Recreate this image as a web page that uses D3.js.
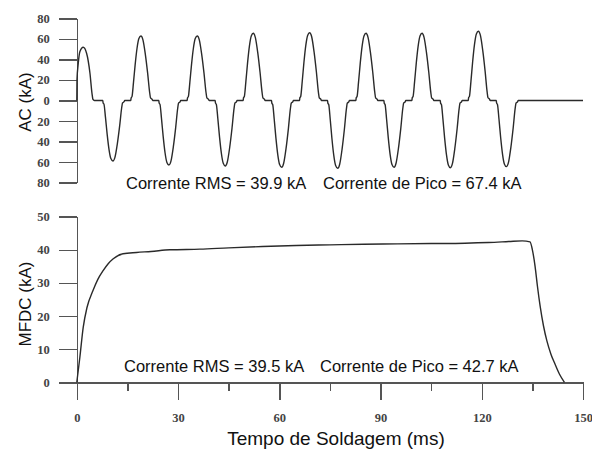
<!DOCTYPE html>
<html>
<head>
<meta charset="utf-8">
<script src="https://cdn.jsdelivr.net/npm/d3@7"></script>
<style>
  html, body { margin: 0; padding: 0; background: #fff; }
  svg { display: block; }
  .axis path, .axis line { stroke: #555; stroke-width: 1.5; shape-rendering: crispEdges; }
  .axis text { font-family: "Liberation Serif", "Times New Roman", serif; font-weight: bold; font-size: 12.5px; fill: #444; }
  .trace { fill: none; stroke: #2a2a2a; stroke-width: 1.4; stroke-linejoin: round; }
  .note { font-family: "Liberation Sans", Arial, sans-serif; font-size: 16.5px; fill: #111; }
  .title { font-family: "Liberation Sans", Arial, sans-serif; fill: #111; }
</style>
</head>
<body>
<svg id="chart" width="592" height="452"></svg>
<script>
// ---- AC welding current (kA) ----
// First half-cycle is already conducting at t = 0: [ms, kA]
const acFirstLobe = [[0, 0], [0.05, 20], [0.4, 35], [0.9, 47.5], [1.9, 51.8], [2.9, 46], [3.9, 26.5], [4.5, 7], [4.8, 1], [5.2, 0]];
// Start time (ms) of each following conduction half-cycle
const acLobeStarts = [7.7, 16.0, 24.3, 32.7, 41.0, 49.3, 57.7, 66.0, 74.3, 82.7, 91.0, 99.3, 107.7, 116.0, 124.3];
// Peak current of each of those half-cycles (kA)
const acLobePeaks = [-58.9, 62.8, -62.8, 62.8, -63.7, 65.4, -65.0, 66.0, -66.0, 65.4, -65.0, 65.4, -65.4, 67.4, -64.4];
// Shape of one thyristor-fired half-cycle: [ms after firing, fraction of peak]
const acLobeShape = [[0, 0], [0.1, 0.04], [0.35, 0.06], [0.8, 0.28], [1.3, 0.56], [1.85, 0.81], [2.4, 0.96], [3.0, 1.0],
                     [3.6, 0.94], [4.3, 0.72], [5.0, 0.42], [5.6, 0.12], [5.85, 0.04], [6.3, 0.02], [6.5, 0]];
const acEnd = [150, 0];

// ---- MFDC welding current: [ms, kA] ----
const dcCurve = [[0, 0], [0.9, 7.5], [1.9, 16.6], [3.0, 22.5], [4.8, 27.7], [6.2, 31.0], [7.8, 33.7], [9.3, 35.8], [10.8, 37.3],
                 [13.7, 38.8], [17.7, 39.2], [22, 39.5], [27.6, 40.0], [36.5, 40.2], [45, 40.6], [55, 41.0], [65, 41.3],
                 [75, 41.5], [85, 41.7], [95, 41.8], [105, 41.9], [115, 42.0], [122, 42.2], [128, 42.5], [132, 42.7],
                 [134.3, 42.4], [135.0, 40.0], [135.8, 35.0], [136.5, 29.0], [137.3, 23.0], [138.3, 17.0], [139.3, 12.5],
                 [140.5, 8.5], [141.7, 5.5], [143.0, 2.5], [144.5, 0]];

// ---- Axis ticks and labels ----
const xTicks = [0, 30, 60, 90, 120, 150];
const xMinorTicks = [15, 45, 75, 105, 135];
const acTicks = [80, 60, 40, 20, 0, -20, -40, -60, -80];
const dcTicks = [0, 10, 20, 30, 40, 50];
const acTitle = "AC (kA)";
const dcTitle = "MFDC (kA)";
const xTitle = "Tempo de Soldagem (ms)";
const acNotes = ["Corrente RMS = 39.9 kA", "Corrente de Pico = 67.4 kA"];
const dcNotes = ["Corrente RMS = 39.5 kA", "Corrente de Pico = 42.7 kA"];

const svg = d3.select("#chart");

const x = d3.scaleLinear().domain([0, 150]).range([76.8, 583]);
const yAC = d3.scaleLinear().domain([-80, 80]).range([182.7, 18.3]);
const yDC = d3.scaleLinear().domain([0, 50]).range([382.3, 216.7]);

// Assemble the AC trace from the measured half-cycles
const acSeries = acFirstLobe.slice();
acLobeStarts.forEach((t0, i) => {
  acLobeShape.forEach(([dt, f]) => acSeries.push([t0 + dt, f * acLobePeaks[i]]));
});
acSeries.push(acEnd);

// Axes
svg.append("g").attr("class", "axis").attr("transform", `translate(${x(0)},0)`)
  .call(d3.axisLeft(yAC).tickValues(acTicks).tickSize(18).tickSizeOuter(0).tickPadding(9)
    .tickFormat(d => String(Math.abs(d))));

svg.append("g").attr("class", "axis").attr("transform", `translate(${x(0)},0)`)
  .call(d3.axisLeft(yDC).tickValues(dcTicks).tickSize(18).tickSizeOuter(0).tickPadding(9));

svg.append("g").attr("class", "axis").attr("transform", `translate(0,${yDC(0)})`)
  .call(d3.axisBottom(x).tickValues(xMinorTicks).tickSize(9).tickSizeOuter(0).tickFormat(""));

svg.append("g").attr("class", "axis").attr("transform", `translate(0,${yDC(0)})`)
  .call(d3.axisBottom(x).tickValues(xTicks).tickSize(18).tickSizeOuter(0).tickPadding(13));

// Traces
const acLine = d3.line().x(d => x(d[0])).y(d => yAC(d[1])).curve(d3.curveMonotoneX);
const dcLine = d3.line().x(d => x(d[0])).y(d => yDC(d[1])).curve(d3.curveMonotoneX);

svg.append("path").attr("class", "trace").attr("d", acLine(acSeries));
svg.append("path").attr("class", "trace").attr("d", dcLine(dcCurve));

// Annotations
svg.append("text").attr("class", "note").attr("x", 126).attr("y", 189).text(acNotes[0]);
svg.append("text").attr("class", "note").attr("x", 323).attr("y", 189).text(acNotes[1]);
svg.append("text").attr("class", "note").attr("x", 124).attr("y", 372).text(dcNotes[0]);
svg.append("text").attr("class", "note").attr("x", 320).attr("y", 372).text(dcNotes[1]);

// Axis titles
svg.append("text").attr("class", "title").attr("font-size", 17)
  .attr("transform", "translate(31,102) rotate(-90)").attr("text-anchor", "middle").text(acTitle);
svg.append("text").attr("class", "title").attr("font-size", 17)
  .attr("transform", "translate(31,304) rotate(-90)").attr("text-anchor", "middle").text(dcTitle);
svg.append("text").attr("class", "title").attr("font-size", 19)
  .attr("x", 336).attr("y", 445).attr("text-anchor", "middle").text(xTitle);
</script>
</body>
</html>
